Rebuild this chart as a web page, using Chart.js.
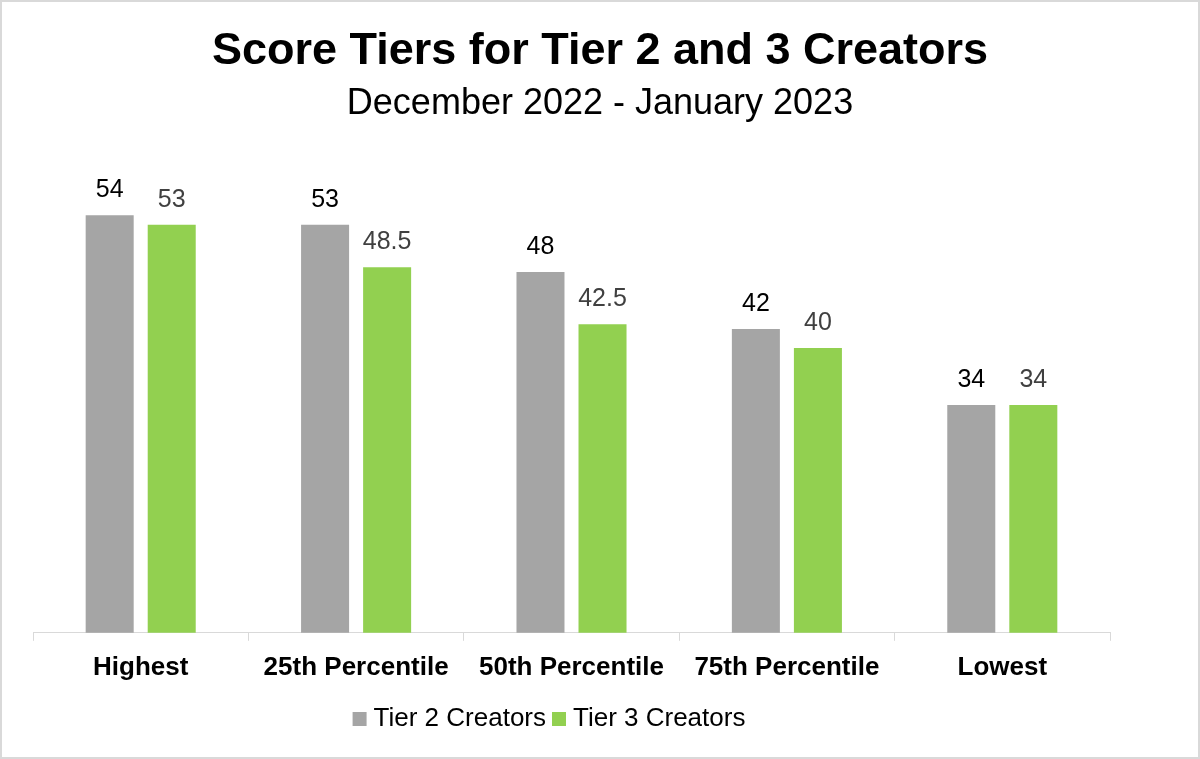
<!DOCTYPE html>
<html>
<head>
<meta charset="utf-8">
<script src="https://cdn.jsdelivr.net/npm/chart.js@4"></script>
<style>
  html, body { margin: 0; padding: 0; background: #fff; }
  #wrap { width: 1200px; height: 759px; }
</style>
</head>
<body>
<div id="wrap"><canvas id="chart" width="1200" height="759"></canvas></div>
<script>
// Chart data
const categories = ['Highest', '25th Percentile', '50th Percentile', '75th Percentile', 'Lowest'];
const tier2Values = [54, 53, 48, 42, 34];
const tier3Values = [53, 48.5, 42.5, 40, 34];
const seriesNames = ['Tier 2 Creators', 'Tier 3 Creators'];

const FONT = "'Liberation Sans', Arial, sans-serif";

// white background + light grey frame
const framePlugin = {
    id: 'frame',
    beforeDraw(chart) {
        const ctx = chart.ctx;
        ctx.save();
        ctx.fillStyle = '#ffffff';
        ctx.fillRect(0, 0, chart.width, chart.height);
        ctx.strokeStyle = '#d9d9d9';
        ctx.lineWidth = 2;
        ctx.strokeRect(1, 1, chart.width - 2, chart.height - 2);
        ctx.restore();
    }
};

// value labels above each bar
const valueLabels = {
    id: 'valueLabels',
    afterDatasetsDraw(chart) {
        const ctx = chart.ctx;
        const colors = ['#000000', '#404040'];
        ctx.save();
        ctx.font = '25px ' + FONT;
        ctx.textAlign = 'center';
        ctx.textBaseline = 'alphabetic';
        chart.data.datasets.forEach((ds, i) => {
            const meta = chart.getDatasetMeta(i);
            ctx.fillStyle = colors[i];
            meta.data.forEach((bar, j) => {
                ctx.fillText(String(ds.data[j]), bar.x, bar.y - 18);
            });
        });
        ctx.restore();
    }
};

// legend sits a bit left of centre in the original
const legendShift = {
    id: 'legendShift',
    afterLayout(chart) {
        if (chart.legend) {
            chart.legend.left -= 48;
            chart.legend.right -= 48;
        }
    }
};

new Chart(document.getElementById('chart'), {
    type: 'bar',
    data: {
        labels: categories,
        datasets: [
            {
                label: seriesNames[0],
                data: tier2Values,
                backgroundColor: '#a5a5a5',
                categoryPercentage: 0.576,
                barPercentage: 0.774
            },
            {
                label: seriesNames[1],
                data: tier3Values,
                backgroundColor: '#92d050',
                categoryPercentage: 0.576,
                barPercentage: 0.774
            }
        ]
    },
    options: {
        responsive: false,
        animation: false,
        layout: { padding: { top: 0, left: 0, right: 0, bottom: 17 } },
        plugins: {
            title: {
                display: true,
                text: 'Score Tiers for Tier 2 and 3 Creators',
                color: '#000',
                font: { family: FONT, size: 45, weight: 'bold', lineHeight: 1.2 },
                padding: { top: 25, bottom: 0 }
            },
            subtitle: {
                display: true,
                text: 'December 2022 - January 2023',
                color: '#000',
                font: { family: FONT, size: 36, lineHeight: 1.2 },
                padding: { top: 3, bottom: 33 }
            },
            legend: {
                position: 'bottom',
                labels: {
                    color: '#000',
                    font: { family: FONT, size: 26 },
                    usePointStyle: true,
                    pointStyle: 'rect',
                    boxWidth: 2,
                    boxHeight: 14,
                    padding: 12
                }
            },
            tooltip: { enabled: false }
        },
        scales: {
            x: {
                grid: {
                    display: true,
                    drawOnChartArea: false,
                    drawTicks: true,
                    tickLength: 8,
                    color: '#d9d9d9'
                },
                border: { display: true, color: '#d9d9d9', width: 1 },
                ticks: {
                    color: '#000',
                    font: { family: FONT, size: 26, weight: 'bold' },
                    padding: 11,
                    maxRotation: 0,
                    autoSkip: false
                }
            },
            y: {
                min: 10,
                max: 60,
                position: 'left',
                grid: { display: false },
                border: { display: false },
                ticks: { display: false },
                afterFit: s => { s.width = 33; }
            },
            yRight: {
                type: 'linear',
                position: 'right',
                grid: { display: false },
                border: { display: false },
                ticks: { display: false },
                afterFit: s => { s.width = 90; }
            }
        }
    },
    plugins: [framePlugin, valueLabels, legendShift]
});
</script>
</body>
</html>
